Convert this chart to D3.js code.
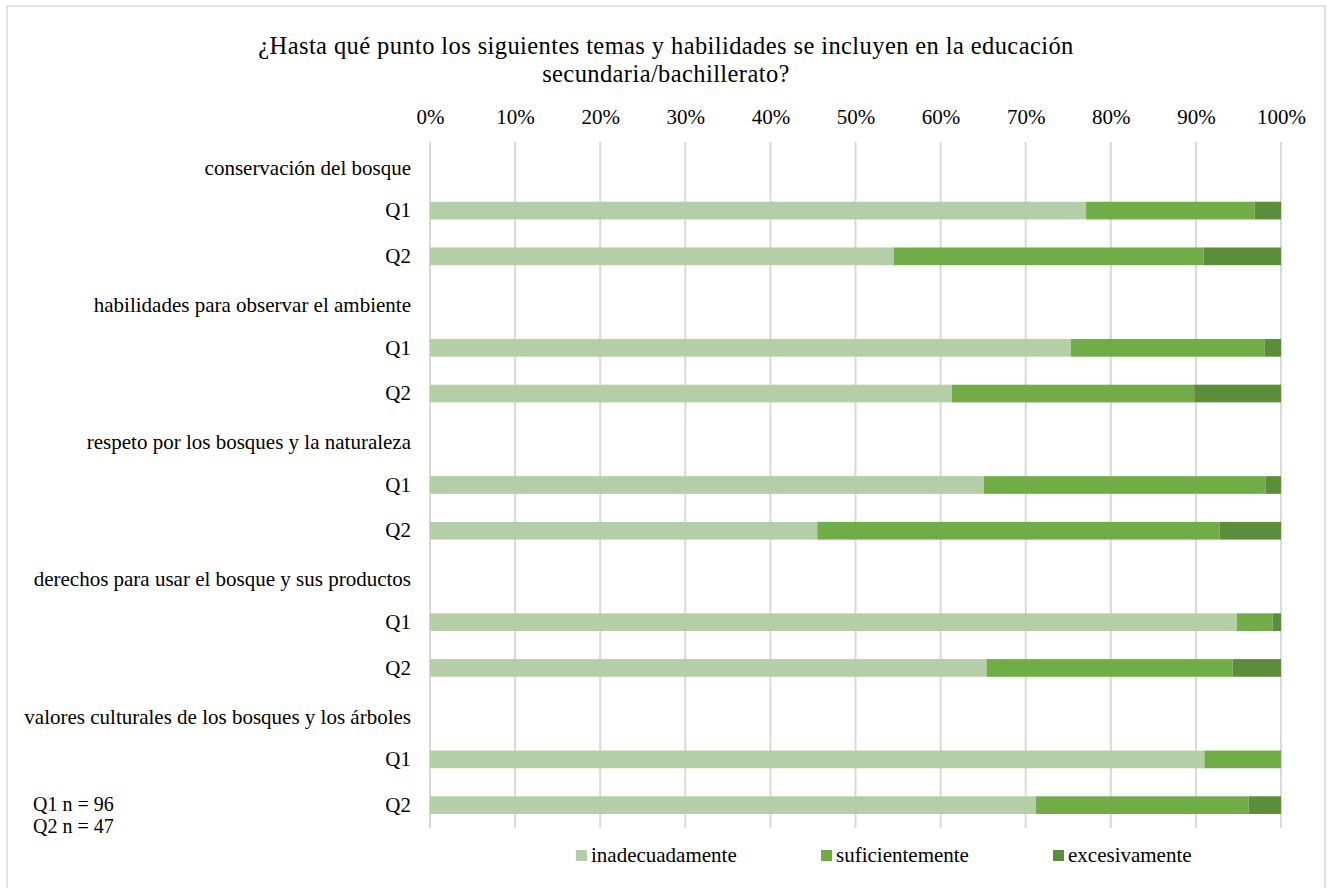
<!DOCTYPE html>
<html>
<head>
<meta charset="utf-8">
<script src="https://cdn.jsdelivr.net/npm/d3@7"></script>
<style>
  html, body { margin: 0; padding: 0; background: #fff; }
  svg { display: block; font-family: "Liberation Serif", "Times New Roman", serif; }
</style>
</head>
<body>
<svg id="chart" width="1331" height="888"></svg>
<script>
// ---- data ----
const topics = [
  "conservación del bosque",
  "habilidades para observar el ambiente",
  "respeto por los bosques y la naturaleza",
  "derechos para usar el bosque y sus productos",
  "valores culturales de los bosques y los árboles"
];
const waves = ["Q1", "Q2"];
const seriesNames = ["inadecuadamente", "suficientemente", "excesivamente"];
const seriesColors = ["#b4cfa8", "#70ad47", "#5b8d3a"];
// percentages per topic
const q1Inadecuadamente = [77.1, 75.3, 65.1, 94.8, 91.0];
const q1Suficientemente = [19.8, 22.8, 33.1, 4.2, 9.0];
const q1Excesivamente  = [3.1, 1.9, 1.8, 1.0, 0.0];
const q2Inadecuadamente = [54.5, 61.3, 45.5, 65.4, 71.2];
const q2Suficientemente = [36.4, 28.5, 47.3, 28.9, 25.0];
const q2Excesivamente  = [9.1, 10.2, 7.2, 5.7, 3.8];
const tickValues = [0, 10, 20, 30, 40, 50, 60, 70, 80, 90, 100];
const titleLines = [
  "¿Hasta qué punto los siguientes temas y habilidades se incluyen en la educación",
  "secundaria/bachillerato?"
];
const noteLines = ["Q1 n = 96", "Q2 n = 47"];

// ---- build rows ----
const rows = [];
topics.forEach((t, i) => {
  rows.push({ id: "h" + i, label: t, header: true });
  rows.push({ id: "q1-" + i, label: waves[0], inadecuadamente: q1Inadecuadamente[i], suficientemente: q1Suficientemente[i], excesivamente: q1Excesivamente[i] });
  rows.push({ id: "q2-" + i, label: waves[1], inadecuadamente: q2Inadecuadamente[i], suficientemente: q2Suficientemente[i], excesivamente: q2Excesivamente[i] });
});
const barRows = rows.filter(r => !r.header);
const labelOf = new Map(rows.map(r => [r.id, r.label]));
const isHeader = new Map(rows.map(r => [r.id, !!r.header]));

// ---- layout ----
const svg = d3.select("#chart");
const FS = 21;
const FONT = "Liberation Serif, Times New Roman, serif";
const x = d3.scaleLinear().domain([0, 100]).range([430, 1281]);
const y = d3.scaleBand().domain(rows.map(r => r.id)).range([142, 828])
  .paddingInner(0.613).paddingOuter(0.3065);
const color = d3.scaleOrdinal().domain(seriesNames).range(seriesColors);

// frame
svg.append("rect").attr("x", 7).attr("y", 6).attr("width", 1318).attr("height", 884)
  .attr("fill", "#fff").attr("stroke", "#d9d9d9").attr("stroke-width", 1.5);

// title
svg.append("g").selectAll("text").data(titleLines).join("text")
  .attr("x", 666).attr("y", (d, i) => 54 + i * 28)
  .attr("text-anchor", "middle").attr("font-size", 24.5).attr("letter-spacing", 0.4).attr("fill", "#000")
  .text(d => d);

// gridlines
svg.append("g").selectAll("line").data(tickValues).join("line")
  .attr("x1", d => x(d)).attr("x2", d => x(d))
  .attr("y1", 142).attr("y2", 828)
  .attr("stroke", "#d9d9d9").attr("stroke-width", 2);

// top axis
const xAxis = svg.append("g").attr("transform", "translate(0,130)")
  .call(d3.axisTop(x).tickValues(tickValues).tickSize(0).tickPadding(6).tickFormat(d => d + "%"));
xAxis.select(".domain").remove();
xAxis.selectAll("text").attr("font-size", FS).attr("font-family", FONT).attr("fill", "#000");

// left axis
const yAxis = svg.append("g").attr("transform", "translate(430,0)")
  .call(d3.axisLeft(y).tickSize(0).tickPadding(19).tickFormat(d => labelOf.get(d)));
yAxis.select(".domain").remove();
yAxis.selectAll("text").attr("font-size", FS).attr("font-family", FONT).attr("fill", "#000")
  .attr("dy", d => isHeader.get(d) ? "0.47em" : "0.32em");

// bars
const stacked = d3.stack().keys(seriesNames)(barRows);
svg.append("g").selectAll("g").data(stacked).join("g")
  .attr("fill", d => color(d.key))
  .selectAll("rect").data(d => d).join("rect")
  .attr("x", d => x(d[0]))
  .attr("width", d => Math.max(0, x(d[1]) - x(d[0])))
  .attr("y", d => y(d.data.id))
  .attr("height", y.bandwidth());

// legend
const legendX = [576, 821, 1053];
const lg = svg.append("g").selectAll("g").data(seriesNames).join("g")
  .attr("transform", (d, i) => `translate(${legendX[i]},850)`);
lg.append("rect").attr("width", 11).attr("height", 11).attr("fill", d => color(d));
lg.append("text").attr("x", 15).attr("y", 12).attr("font-size", FS).attr("fill", "#000").text(d => d);

// notes
svg.append("g").selectAll("text").data(noteLines).join("text")
  .attr("x", 33).attr("y", (d, i) => 811 + i * 22)
  .attr("font-size", 20).attr("fill", "#000").text(d => d);
</script>
</body>
</html>
